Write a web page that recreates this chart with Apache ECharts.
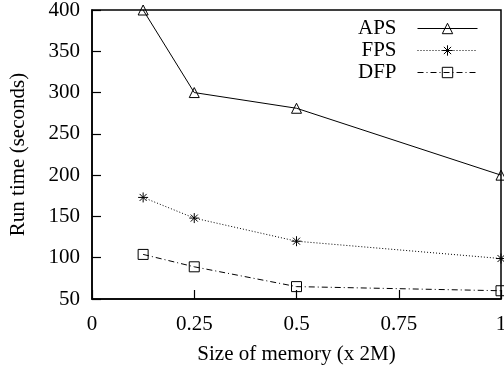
<!DOCTYPE html>
<html>
<head>
<meta charset="utf-8">
<script src="https://cdn.jsdelivr.net/npm/echarts@6/dist/echarts.min.js"></script>
<style>
  html, body { margin: 0; padding: 0; background: #fff; }
  #main { width: 504px; height: 366px; }
</style>
</head>
<body>
<div id="main"></div>
<script>
// memory size (x 2M)
var memSize = [0.125, 0.25, 0.5, 1];
// run time in seconds
var apsTime = [400, 300, 281, 200];
var fpsTime = [173, 148, 120, 99];
var dfpTime = [104, 89, 65, 60];
var xTicks = ['0', '0.25', '0.5', '0.75', '1'];

var FONT = '"Liberation Serif", "DejaVu Serif", serif';
var STAR = 'path://M5,0L5,10M0,5L10,5M1.5,1.5L8.5,8.5M8.5,1.5L1.5,8.5';

function pairs(xs, ys) {
  var out = [];
  for (var i = 0; i < xs.length; i++) {
    out.push([xs[i], ys[i]]);
  }
  return out;
}

function mkSeries(name, ys, symbol, size, dash) {
  return {
    name: name,
    type: 'line',
    data: pairs(memSize, ys),
    symbol: symbol,
    symbolSize: size,
    showAllSymbol: true,
    clip: false,
    itemStyle: { color: 'rgba(0,0,0,0)', borderColor: '#000', borderWidth: 1 },
    lineStyle: { color: '#000', width: 1, type: dash },
    emphasis: { disabled: true },
    animation: false
  };
}

var myChart = echarts.init(document.getElementById('main'));
myChart.setOption({
  backgroundColor: '#fff',
  textStyle: { fontFamily: FONT },
  grid: {
    left: 92,
    right: 3,
    top: 10,
    bottom: 67,
    containLabel: false,
    outerBoundsMode: 'none',
    show: true,
    borderColor: '#000',
    borderWidth: 1.5,
    backgroundColor: 'transparent'
  },
  legend: {
    right: 26,
    top: 18,
    padding: 0,
    orient: 'vertical',
    align: 'right',
    itemWidth: 60,
    itemHeight: 13,
    itemGap: 1,
    lineStyle: { width: 1 },
    itemStyle: { borderWidth: 1 },
    textStyle: { fontFamily: FONT, fontSize: 21, color: '#000', padding: [0, 16, 0, 0] },
    data: ['APS', 'FPS', 'DFP']
  },
  xAxis: {
    type: 'value',
    min: 0,
    max: 1,
    interval: 0.25,
    name: 'Size of memory (x 2M)',
    nameLocation: 'middle',
    nameGap: 45,
    nameTextStyle: { fontFamily: FONT, fontSize: 21, color: '#000' },
    axisLine: { show: true, lineStyle: { color: '#000', width: 1.5 } },
    axisTick: { show: true, inside: true, length: 9, lineStyle: { color: '#000', width: 1.2 } },
    axisLabel: {
      fontFamily: FONT, fontSize: 21, color: '#000', margin: 15,
      formatter: function (v) {
        return xTicks[Math.round(v / 0.25)];
      }
    },
    splitLine: { show: false }
  },
  yAxis: {
    type: 'value',
    min: 50,
    max: 400,
    interval: 50,
    name: 'Run time (seconds)',
    nameLocation: 'middle',
    nameGap: 63,
    nameTextStyle: { fontFamily: FONT, fontSize: 21, color: '#000' },
    axisLine: { show: true, lineStyle: { color: '#000', width: 1.5 } },
    axisTick: { show: true, inside: true, length: 9, lineStyle: { color: '#000', width: 1.2 } },
    axisLabel: { fontFamily: FONT, fontSize: 21, color: '#000', margin: 12 },
    splitLine: { show: false }
  },
  series: [
    mkSeries('APS', apsTime, 'triangle', 10, 'solid'),
    mkSeries('FPS', fpsTime, STAR, 10, [1, 2]),
    mkSeries('DFP', dfpTime, 'rect', 10, [6, 3, 1, 3])
  ]
});
</script>
</body>
</html>
